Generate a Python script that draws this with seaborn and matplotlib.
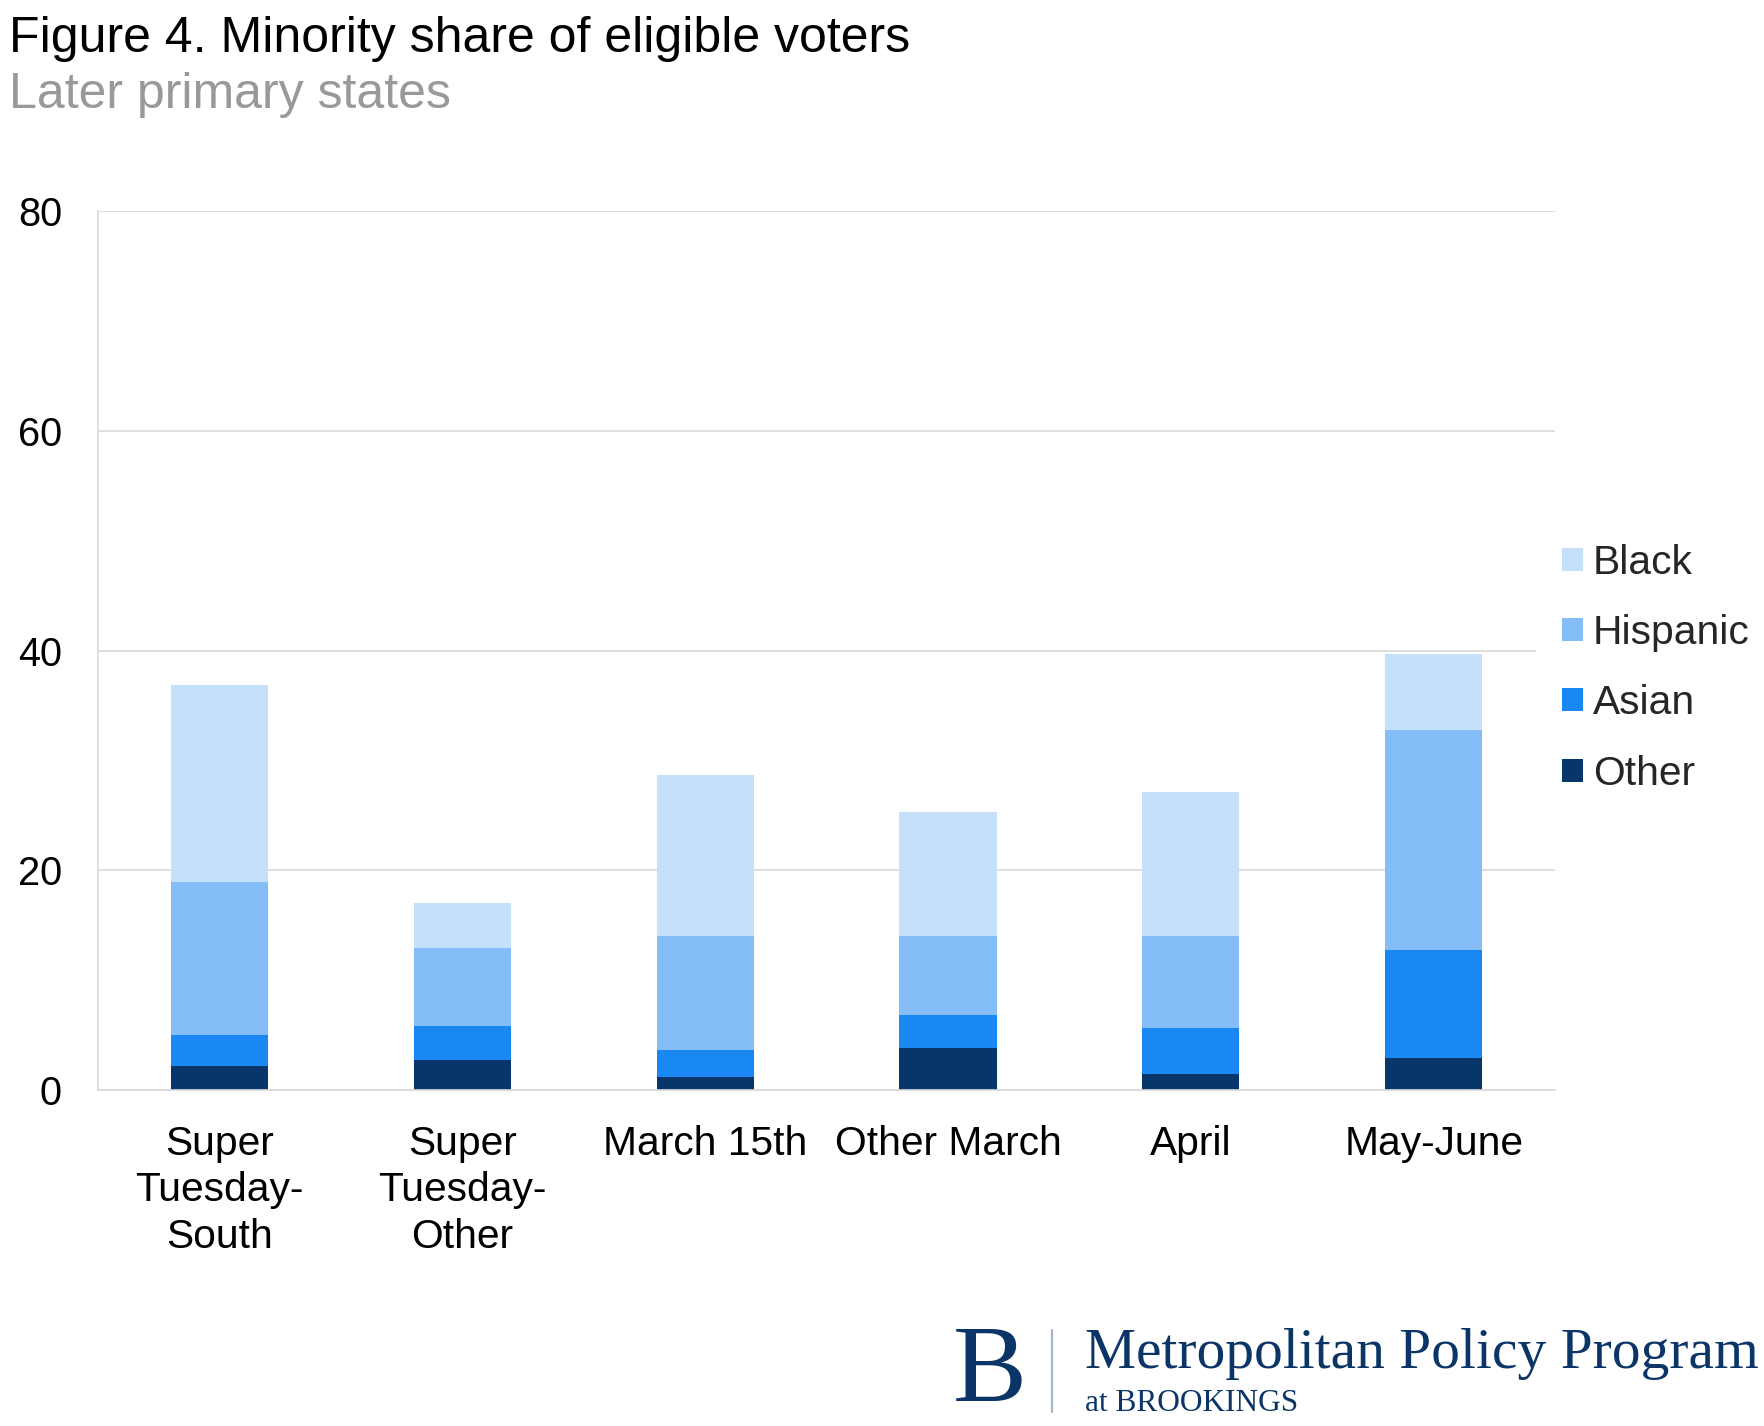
import matplotlib.pyplot as plt
import pandas as pd
import seaborn as sns
from matplotlib.lines import Line2D

# Data (percent of eligible voters)
categories = ['Super\nTuesday-\nSouth', 'Super\nTuesday-\nOther', 'March 15th',
              'Other March', 'April', 'May-June']
other = [2.2, 2.7, 1.2, 3.8, 1.5, 2.9]
asian = [2.8, 3.1, 2.4, 3.0, 4.1, 9.8]
hispanic = [13.9, 7.1, 10.4, 7.2, 8.4, 20.1]
black = [18.0, 4.1, 14.7, 11.3, 13.1, 6.9]
groups = ['Other', 'Asian', 'Hispanic', 'Black']
colors = ['#07366A', '#1A88F3', '#85BDF8', '#C6E0FB']
yticks = [0, 20, 40, 60, 80]

df = pd.DataFrame({'category': categories, 'Other': other, 'Asian': asian,
                   'Hispanic': hispanic, 'Black': black})
cum = df[groups].cumsum(axis=1)

sns.set_theme(style='white')
plt.rcParams['font.family'] = ['Liberation Sans', 'DejaVu Sans']

fig = plt.figure(figsize=(8.82, 7.13), dpi=200)
ax = fig.add_axes([0.05556, 0.23562, 0.8260, 0.61641])

# stacked bars: draw the tallest cumulative layer first, then overlay the rest
for g, c in reversed(list(zip(groups, colors))):
    sns.barplot(x=df['category'], y=cum[g], color=c, saturation=1, width=0.4,
                linewidth=0, edgecolor='none', label=g, ax=ax)

ax.set_xlim(-0.5, 5.5)
ax.set_ylim(0, 80)
ax.set_yticks(yticks)
ax.set(xlabel='', ylabel='')
ax.set_axisbelow(True)
ax.yaxis.grid(True, color='#d9d9d9', lw=0.6)
for s in ['top', 'right']:
    ax.spines[s].set_visible(False)
for s in ['left', 'bottom']:
    ax.spines[s].set_color('#d9d9d9')
    ax.spines[s].set_linewidth(0.6)
ax.tick_params(axis='y', length=0, pad=13, labelsize=14.3, labelcolor='black')
ax.tick_params(axis='x', length=0, pad=12.5, labelsize=14.7, labelcolor='black')
for t in ax.get_xticklabels():
    t.set_linespacing(1.28)

handles, labels = ax.get_legend_handles_labels()
if ax.get_legend() is not None:
    ax.get_legend().remove()
leg = fig.legend(handles, labels, loc='center left', bbox_to_anchor=(0.8707, 0.5314),
                 fontsize=14.7, frameon=True, facecolor='white', edgecolor='none',
                 framealpha=1, fancybox=False, borderpad=0.64, borderaxespad=0,
                 handlelength=0.51, handleheight=0.49, handletextpad=0.25,
                 labelspacing=0.79)

# titles
fig.text(0.0051, 0.9637, 'Figure 4. Minority share of eligible voters',
         fontsize=18, color='black', va='baseline', ha='left')
fig.text(0.0051, 0.92426, 'Later primary states',
         fontsize=18, color='#999999', va='baseline', ha='left')

# Brookings logo
navy = '#0B3567'
fig.text(0.5612, 1 - 1401 / 1426, 'B', family=['Liberation Serif', 'DejaVu Serif'],
         fontsize=40, color=navy, ha='center', va='baseline')
fig.add_artist(Line2D([0.5964, 0.5964], [0.00982, 0.0673], color='#a8b4c8', lw=0.8))
fig.text(0.6149, 0.04067, 'Metropolitan Policy Program',
         family=['Liberation Serif', 'DejaVu Serif'], fontsize=20.7, color=navy,
         ha='left', va='baseline')
fig.text(0.6149, 0.01052, 'at BROOKINGS',
         family=['Liberation Serif', 'DejaVu Serif'], fontsize=11.3, color=navy,
         ha='left', va='baseline')

fig.savefig('out.png', dpi=200)
